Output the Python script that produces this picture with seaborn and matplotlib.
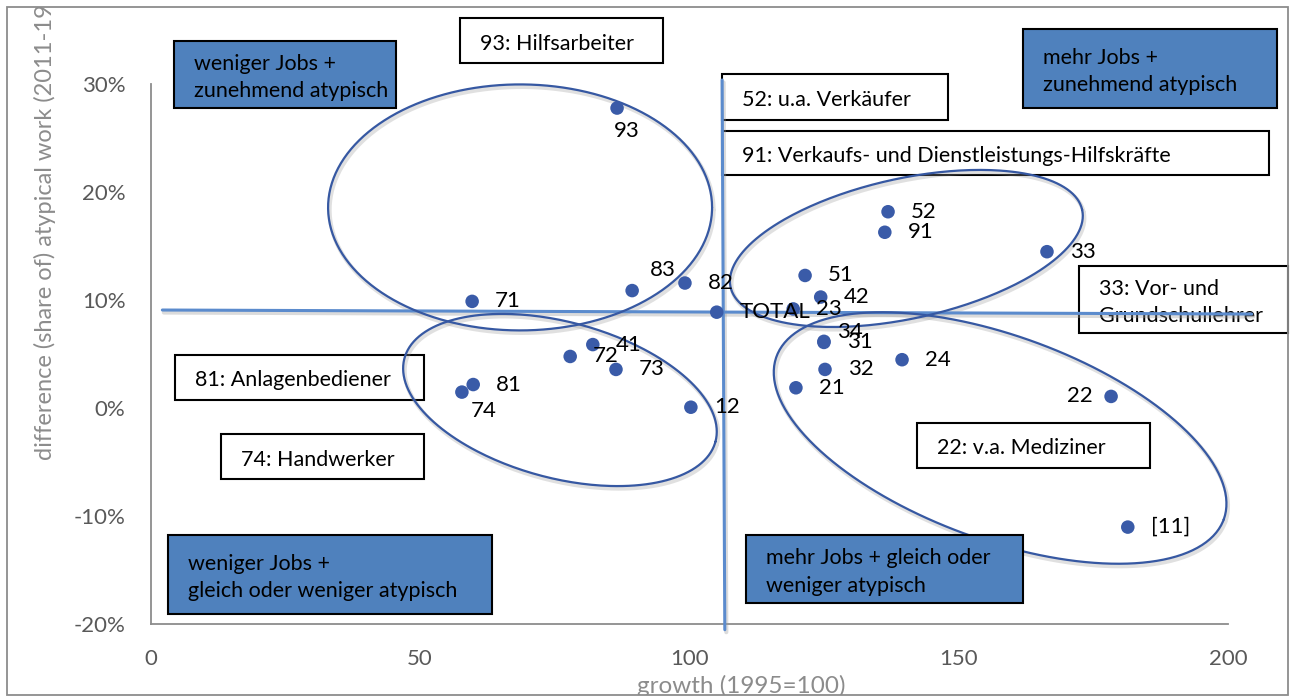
import matplotlib
matplotlib.use("Agg")
import matplotlib.pyplot as plt
import matplotlib.transforms as mtransforms
from matplotlib.patches import Rectangle
from matplotlib.ticker import PercentFormatter
import seaborn as sns
import pandas as pd
import numpy as np

# data: occupation codes, growth (1995=100), change in share of atypical work
codes = ["93", "71", "83", "82", "TOTAL", "23", "51", "42", "52", "91", "33", "34",
         "31", "32", "21", "24", "22", "[11]", "12", "73", "72", "41", "81", "74"]
growth = [86.6, 59.7, 89.4, 99.2, 105.1, 119.3, 121.5, 124.4, 136.9, 136.3, 166.4, 125.0,
          125.0, 125.2, 119.8, 139.5, 178.3, 181.4, 100.3, 86.4, 77.9, 82.1, 59.9, 57.8]
atyp = [0.278, 0.099, 0.109, 0.116, 0.089, 0.092, 0.123, 0.103, 0.182, 0.163, 0.145, 0.062,
        0.061, 0.036, 0.019, 0.045, 0.011, -0.110, 0.001, 0.036, 0.048, 0.059, 0.022, 0.015]

x_ticks = [0, 50, 100, 150, 200]
y_ticks = [-0.2, -0.1, 0.0, 0.1, 0.2, 0.3]

df = pd.DataFrame({"code": codes, "growth": growth, "atyp": atyp})

W, H = 1295, 697
FONT = ["Lato", "DejaVu Sans"]
DOT = "#3a5ba8"
LINE = "#5b8bcd"
ELL = "#3658a2"
BOXBLUE = "#4f81bd"

sns.set_theme(style="white")
plt.rcParams["font.family"] = FONT
plt.rcParams["axes.unicode_minus"] = False  # Excel style "-10%"

fig = plt.figure(figsize=(W / 100, H / 100), dpi=100)
ax = fig.add_axes([150.5 / W, 1 - 624.3 / H, (1228 - 150.5) / W, (624.3 - 84.3) / H])
ax.patch.set_visible(False)


def fx(x):
    return x / W


def fy(y):
    return 1 - y / H


# scatter
sns.scatterplot(data=df, x="growth", y="atyp", ax=ax, color=DOT, s=95,
                edgecolor="none", zorder=6, clip_on=False, legend=False)

ax.set_xlim(0, 200)
ax.set_ylim(-0.2, 0.3)
ax.set_xticks(x_ticks)
ax.set_yticks(y_ticks)
ax.yaxis.set_major_formatter(PercentFormatter(1.0, decimals=0))
for s in ["top", "right"]:
    ax.spines[s].set_visible(False)
for s in ["left", "bottom"]:
    ax.spines[s].set_color("#8c8c8c")
    ax.spines[s].set_linewidth(1.3)
ax.tick_params(axis="both", direction="out", length=6, width=1.2, color="#8c8c8c",
               labelsize=16, labelcolor="#595959")
ax.tick_params(axis="y", pad=12)
ax.tick_params(axis="x", pad=12)
ax.set_xlabel("")
ax.set_ylabel("")

# point labels (offset in pixels from the dot)
special = {"93": (10, -23, "center"), "83": (18, 21, "left"), "22": (-18, 0, "right"),
           "74": (9, -19, "left"), "34": (13, 9, "left")}
for c, gx, gy in zip(codes, growth, atyp):
    dx, dy, ha = special.get(c, (23, 0, "left"))
    ax.annotate(c, (gx, gy), xytext=(dx, dy), textcoords="offset pixels",
                ha=ha, va="center", fontsize=16, color="black", zorder=7,
                annotation_clip=False)

# quadrant reference lines
shadow = mtransforms.offset_copy(ax.transData, fig=fig, x=1.5, y=-2.5, units="dots")
for xs, ys in [([2.2, 204.4], [0.091, 0.0873]), ([106.1, 106.6], [0.304, -0.205])]:
    ax.plot(xs, ys, color="#9a9a9a", lw=3, alpha=0.35, transform=shadow, clip_on=False, zorder=3)
    ax.plot(xs, ys, color=LINE, lw=2.2, clip_on=False, zorder=4)

# ellipses: centre (data), semi-axes (pixels), angle (deg)
ellipses = [(68.6, 0.186, 192, 123, 0), (140.3, 0.148, 180, 70, 12.4),
            (76.0, 0.0077, 161, 78, -15), (157.7, -0.0275, 238, 102, -20)]
fig.canvas.draw()
t = np.linspace(0, 2 * np.pi, 300)
for cx, cy, a, b, ang in ellipses:
    c = ax.transData.transform((cx, cy))
    r = np.deg2rad(ang)
    px = c[0] + a * np.cos(t) * np.cos(r) - b * np.sin(t) * np.sin(r)
    py = c[1] + a * np.cos(t) * np.sin(r) + b * np.sin(t) * np.cos(r)
    pts = ax.transData.inverted().transform(np.column_stack([px, py]))
    ax.plot(pts[:, 0], pts[:, 1], color="#9a9a9a", lw=3, alpha=0.3, transform=shadow,
            clip_on=False, zorder=3)
    ax.plot(pts[:, 0], pts[:, 1], color=ELL, lw=1.6, clip_on=False, zorder=5)

# text boxes (pixel positions: left, top, right, bottom)
boxes = [
    (174, 41, 396, 108, "weniger Jobs +\nzunehmend atypisch", True),
    (460, 18, 663, 63, "93: Hilfsarbeiter", False),
    (1023, 29, 1277, 108, "mehr Jobs +\nzunehmend atypisch", True),
    (722, 74, 948, 120, "52: u.a. Verkäufer", False),
    (722, 131, 1269, 175, "91: Verkaufs- und Dienstleistungs-Hilfskräfte", False),
    (1079, 266, 1288, 333, "33: Vor- und\nGrundschullehrer", False),
    (175, 355, 424, 400, "81: Anlagenbediener", False),
    (221, 434, 424, 479, "74: Handwerker", False),
    (917, 423, 1150, 468, "22: v.a. Mediziner", False),
    (168, 535, 492, 614, "weniger Jobs +\ngleich oder weniger atypisch", True),
    (746, 535, 1023, 603, "mehr Jobs + gleich oder\nweniger atypisch", True),
]
for l, tp, r, bt, txt, blue in boxes:
    z = 8 if blue else 2
    ax.add_patch(Rectangle((fx(l), fy(bt)), (r - l) / W, (bt - tp) / H,
                           transform=fig.transFigure, facecolor=BOXBLUE if blue else "white",
                           edgecolor="black", lw=1.5, clip_on=False, zorder=z))
    ax.text(fx(l + 20), fy((tp + bt) / 2 + 3), txt, transform=fig.transFigure,
            ha="left", va="center", fontsize=15.5, color="black", linespacing=1.45,
            zorder=z + 0.5, clip_on=False)

# outer chart border
border = Rectangle((fx(7), fy(695)), (1288 - 7) / W, (695 - 7) / H, transform=fig.transFigure,
                   fill=False, edgecolor="#8c8c8c", lw=1.3)
fig.add_artist(border)

# axis titles
yl = fig.text(fx(45), fy(460), "difference (share of) atypical work (2011-1995)",
              rotation=90, ha="center", va="bottom", fontsize=17, color="#8c8c8c")
yl.set_clip_path(border)
xl = fig.text(fx(741), fy(686), "growth (1995=100)", ha="center", va="center",
              fontsize=17.5, color="#8c8c8c")
xl.set_clip_path(border)

fig.savefig("out.png", dpi=100)
